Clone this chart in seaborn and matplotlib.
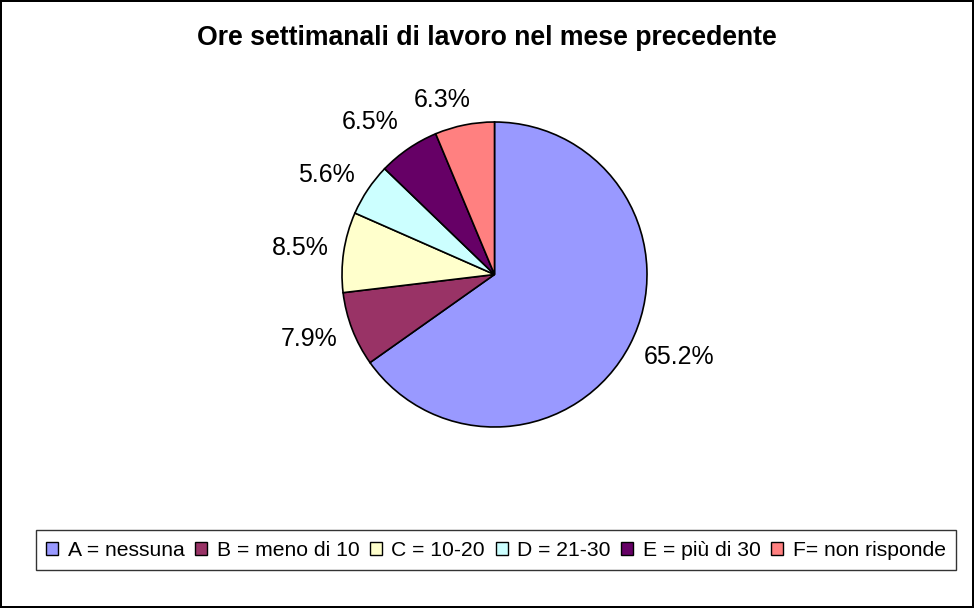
import numpy as np
import matplotlib.pyplot as plt
import seaborn as sns

# Data
categories = ['A = nessuna', 'B = meno di 10', 'C = 10-20', 'D = 21-30',
              'E = più di 30', 'F= non risponde']
shares = [65.2, 7.9, 8.5, 5.6, 6.5, 6.3]
colors = ['#9999FF', '#993366', '#FFFFCC', '#CCFFFF', '#660066', '#FF8080']

sns.set_theme(style='white')
plt.rcParams['font.family'] = ['Liberation Sans', 'DejaVu Sans']
plt.rcParams['text.color'] = 'black'

fig = plt.figure(figsize=(9.74, 6.08), dpi=100)
fig.patch.set_edgecolor('black')
fig.patch.set_linewidth(1.5)

# pie axes: center ~(494, 274) px, radius ~152 px
ax = fig.add_axes([342 / 974, 181 / 608, 305 / 974, 305 / 608])
palette = sns.color_palette(colors)
wedges, texts = ax.pie(shares, labels=[f'{v:.1f}%' for v in shares],
                       colors=palette, startangle=90, counterclock=False,
                       labeldistance=1.1,
                       wedgeprops=dict(edgecolor='black', linewidth=1.2),
                       textprops=dict(fontsize=18))
# push labels a bit outward vertically, like Excel does
for w, t in zip(wedges, texts):
    ang = np.deg2rad((w.theta1 + w.theta2) / 2)
    x, y = t.get_position()
    t.set_position((x, y + 0.07 * np.sin(ang)))
# Excel nudged the top labels to clear each other
texts[4].set_position((-0.63, 1.0))
texts[5].set_x(-0.155)

ax.set_xlim(-1, 1)
ax.set_ylim(-1, 1)
ax.set_aspect('equal')
ax.axis('off')

fig.text(0.5, 1 - 38 / 608, 'Ore settimanali di lavoro nel mese precedente',
         ha='center', va='center', fontsize=19.2, fontweight='bold')

leg = fig.legend(wedges, categories, loc='center',
                 bbox_to_anchor=(496 / 974, 1 - 550 / 608),
                 ncol=6, fontsize=15.2, frameon=True, fancybox=False,
                 handlelength=0.57, handleheight=0.57, handletextpad=0.45,
                 columnspacing=0.5, borderpad=0.5, borderaxespad=0)
leg.get_frame().set_edgecolor('black')
leg.get_frame().set_linewidth(1.0)
for h in leg.legend_handles:
    h.set_linewidth(1.0)

fig.savefig('out.png', dpi=100, edgecolor=fig.get_edgecolor())
